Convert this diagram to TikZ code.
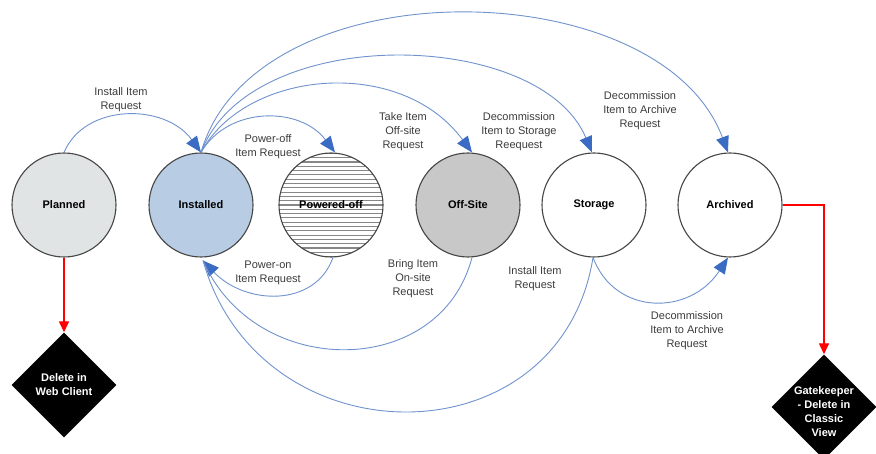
\documentclass[tikz,border=0pt]{standalone}
\usepackage{fontspec}
\setmainfont{Liberation Sans}
\usetikzlibrary{shapes.geometric,arrows.meta}
\definecolor{lineblue}{RGB}{112,146,206}
\definecolor{tipblue}{RGB}{58,108,196}
\definecolor{txtgrey}{RGB}{60,60,60}
\definecolor{plangrey}{RGB}{224,228,228}
\definecolor{instblue}{RGB}{184,204,228}
\definecolor{offgrey}{RGB}{200,200,200}
\definecolor{edgegrey}{RGB}{70,70,70}
\definecolor{hatchgrey}{RGB}{135,135,135}
\tikzset{
  state/.style={circle, draw=edgegrey, line width=1.1pt, minimum size=104pt, inner sep=0pt,
    font=\fontsize{11}{13}\selectfont\bfseries},
  dia/.style={diamond, fill=black, minimum width=105pt, minimum height=105pt, inner sep=0pt},
  diatext/.style={text=white, align=center, inner sep=0pt, font=\fontsize{11}{14}\selectfont\bfseries},
  lbl/.style={text=txtgrey, align=center, inner sep=0pt, font=\fontsize{11}{14}\selectfont},
  flow/.style={draw=lineblue, line width=0.9pt, -{Triangle[length=16pt,width=13pt,fill=tipblue,color=tipblue]}},
  flowplain/.style={draw=lineblue, line width=0.9pt},
  redflow/.style={draw=red, line width=1.4pt, -{Triangle[length=11pt,width=10pt]}},
  hatched/.style={fill=white, path picture={
      \foreach \k in {-13,...,13} {
        \draw[hatchgrey, line width=1.1pt]
          ([xshift=-60pt,yshift=\k*4.3pt]path picture bounding box.center) --
          ([xshift=60pt,yshift=\k*4.3pt]path picture bounding box.center);
      }}}
}
\begin{document}
\begin{tikzpicture}[x=1pt,y=-1pt]
\useasboundingbox[fill=white] (0,0) rectangle (876,454);

% states
\node[state, fill=plangrey] (plan) at (64,205) {Planned};
\node[state, fill=instblue] (inst) at (201,205) {Installed};
\node[state, hatched] (poff) at (331,205) {Powered-off};
\node[state, fill=offgrey] (offs) at (468,205) {Off-Site};
\node[state, fill=white] (stor) at (594,205) {Storage};
\node[state, fill=white] (arch) at (730,205) {Archived};

% diamonds
\node[dia] (del) at (64,385) {};
\node[diatext] (deltext) at (del.center) {Delete in\\Web Client};
\node[dia] (gk) at (824,407) {};
\node[diatext] (gktext) at ([yshift=-5pt]gk.center) {Gatekeeper\\- Delete in\\Classic\\View};

% red connectors
\draw[redflow] (plan.south) -- (del.north);
\draw[redflow] (arch.east) -| (gk.north);

% upper blue arcs
\draw[flow] (plan.north) .. controls (85,103) and (165,103) .. (inst.north);
\draw[flow] (inst.north) .. controls (228,106) and (300,106) .. ([xshift=4pt]poff.north);
\draw[flow] (inst.north) .. controls (245,70) and (400,55) .. ([xshift=4pt]offs.north);
\draw[flow] (inst.north) .. controls (250,22) and (540,28) .. ([xshift=-2pt]stor.north);
\draw[flow] (inst.north) .. controls (255,-35) and (660,-30) .. ([xshift=-2pt]arch.north);

% lower blue arcs
\coordinate (instin) at ([xshift=2pt,yshift=-3pt]inst.south);
\draw[flow] ([xshift=2pt]poff.south) .. controls (315,308) and (245,305) .. (instin);
\draw[flowplain] ([xshift=4pt]offs.south) .. controls (440,380) and (255,380) .. (instin);
\draw[flowplain] ([xshift=-1pt]stor.south) .. controls (560,463) and (260,463) .. (instin);
\draw[flow] ([xshift=-1pt]stor.south) .. controls (615,316) and (690,316) .. ([xshift=-2pt]arch.south);

% labels
\node[lbl] (l1) at (121,100) {Install Item\\Request};
\node[lbl] (l2) at (268,147) {Power-off\\Item Request};
\node[lbl] (l3) at (403,132) {Take Item\\Off-site\\Request};
\node[lbl] (l4) at (519,132) {Decommission\\Item to Storage\\Reequest};
\node[lbl] (l5) at (640,111) {Decommission\\Item to Archive\\Request};
\node[lbl] (l6) at (268,273) {Power-on\\Item Request};
\node[lbl] (l7) at (413,279) {Bring Item\\On-site\\Request};
\node[lbl] (l8) at (535,279) {Install Item\\Request};
\node[lbl] (l9) at (687,331) {Decommission\\Item to Archive\\Request};
\end{tikzpicture}
\end{document}
